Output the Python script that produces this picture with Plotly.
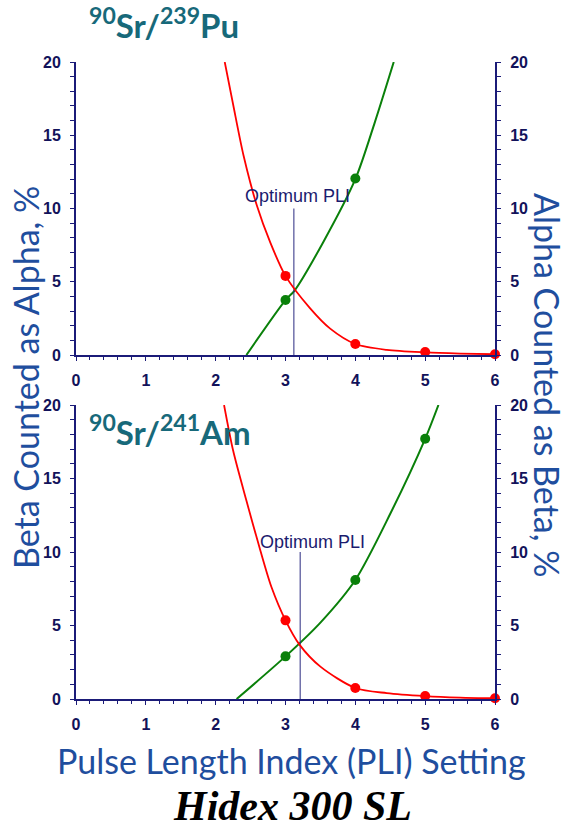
import plotly.graph_objects as go

# ---------------- data ----------------
pli_ticks = [0, 1, 2, 3, 4, 5, 6]

# Top panel: 90Sr/239Pu
pu_red_pts_x = [3, 4, 5, 6]
pu_red_pts_y = [5.4, 0.75, 0.2, 0.05]
pu_green_pts_x = [3, 4]
pu_green_pts_y = [3.75, 12.05]
pu_red_curve_x = [2.13, 2.25, 2.4, 2.59, 2.78, 3.0, 3.35, 3.64, 4.0, 4.45, 5.0, 5.5, 6.0]
pu_red_curve_y = [20, 17.1, 13.6, 10.2, 7.7, 5.4, 3.2, 1.8, 0.75, 0.35, 0.18, 0.1, 0.05]
pu_green_curve_x = [2.44, 3.0, 3.13, 3.54, 4.0, 4.28, 4.55]
pu_green_curve_y = [0, 3.75, 4.4, 7.7, 12.0, 15.9, 20]
pu_optimum = 3.12

# Bottom panel: 90Sr/241Am
am_red_pts_x = [3, 4, 5, 6]
am_red_pts_y = [5.35, 0.75, 0.2, 0.05]
am_green_pts_x = [3, 4, 5]
am_green_pts_y = [2.9, 8.1, 17.7]
am_red_curve_x = [2.12, 2.25, 2.44, 2.64, 2.8, 3.0, 3.2, 3.5, 4.0, 4.45, 5.0, 5.5, 6.0]
am_red_curve_y = [20, 16.9, 13.5, 10.1, 7.6, 5.35, 3.7, 2.2, 0.75, 0.4, 0.2, 0.1, 0.05]
am_green_curve_x = [2.3, 3.0, 3.5, 4.0, 4.5, 5.0, 5.19]
am_green_curve_y = [0, 2.9, 5.2, 8.1, 12.6, 17.7, 20]
am_optimum = 3.21

optimum_line_y = [0, 10]

# ---------------- styles ----------------
NAVY = "#1b1b78"
TICKTXT = "#12125a"
RED = "#ff0000"
GREEN = "#0a800a"
TEAL = "#17697a"
BLUE = "#1f4e9e"

W, H = 570.0, 829.0
L, R = 76.0, 75.0
PW = W - L - R


def px(xpix):
    return (xpix - L) / PW


def py(ypix):
    return (H - ypix) / H


fig = go.Figure()


def add_panel(xa, ya_left, ya_right, rcx, rcy, gcx, gcy, rpx, rpy, gpx, gpy, opt):
    fig.add_trace(go.Scatter(x=rcx, y=rcy, mode="lines", line=dict(color=RED, width=1.8, shape="spline", smoothing=0.8),
                             xaxis=xa, yaxis=ya_right, showlegend=False, hoverinfo="skip"))
    fig.add_trace(go.Scatter(x=gcx, y=gcy, mode="lines", line=dict(color=GREEN, width=2, shape="spline", smoothing=0.8),
                             xaxis=xa, yaxis=ya_left, showlegend=False, hoverinfo="skip"))
    fig.add_trace(go.Scatter(x=[opt, opt], y=optimum_line_y, mode="lines", line=dict(color="#2a2a80", width=1),
                             xaxis=xa, yaxis=ya_left, showlegend=False, hoverinfo="skip"))
    fig.add_trace(go.Scatter(x=rpx, y=rpy, mode="markers", marker=dict(color=RED, size=10), cliponaxis=False,
                             xaxis=xa, yaxis=ya_right, showlegend=False))
    fig.add_trace(go.Scatter(x=gpx, y=gpy, mode="markers", marker=dict(color=GREEN, size=10), cliponaxis=False,
                             xaxis=xa, yaxis=ya_left, showlegend=False))


add_panel("x", "y", "y2", pu_red_curve_x, pu_red_curve_y, pu_green_curve_x, pu_green_curve_y,
          pu_red_pts_x, pu_red_pts_y, pu_green_pts_x, pu_green_pts_y, pu_optimum)
add_panel("x2", "y3", "y4", am_red_curve_x, am_red_curve_y, am_green_curve_x, am_green_curve_y,
          am_red_pts_x, am_red_pts_y, am_green_pts_x, am_green_pts_y, am_optimum)

tickfont = dict(family="Liberation Sans, Arial", size=16, color=TICKTXT, weight="bold")


def xax(anchor):
    return dict(domain=[0, 1], anchor=anchor, range=[0, 6], tickvals=pli_ticks, showline=True,
                linecolor=NAVY, linewidth=2, ticks="outside", ticklen=4, tickwidth=1, tickcolor=NAVY,
                tickfont=tickfont, showgrid=False, zeroline=False, ticklabelstandoff=6, automargin=False,
                minor=dict(dtick=0.2, ticks="outside", ticklen=3, tickwidth=1, tickcolor=NAVY))


def yax(anchor, domain, side, overlaying=None):
    d = dict(anchor=anchor, range=[0, 20], dtick=5, showline=True, side=side,
             linecolor=NAVY, linewidth=2, ticks="outside", ticklen=4, tickwidth=1, tickcolor=NAVY,
             tickfont=tickfont, showgrid=False, zeroline=False, ticklabelstandoff=6, automargin=False,
             minor=dict(dtick=1, ticks="outside", ticklen=4, tickwidth=1, tickcolor=NAVY))
    if overlaying:
        d["overlaying"] = overlaying
    else:
        d["domain"] = domain
    return d


top_dom = [py(355), py(62)]
bot_dom = [py(699), py(405)]

fig.update_layout(
    width=570, height=829,
    margin=dict(l=L, r=R, t=0, b=0, autoexpand=False),
    paper_bgcolor="white", plot_bgcolor="rgba(0,0,0,0)",
    xaxis=xax("y"), yaxis=yax("x", top_dom, "left"), yaxis2=yax("x", None, "right", "y"),
    xaxis2=xax("y3"), yaxis3=yax("x2", bot_dom, "left"), yaxis4=yax("x2", None, "right", "y3"),
)

opt_font = dict(family="Liberation Sans, Arial", size=18, color="#1b1b6e")


def pa(text, x, y, font, xanchor="center", angle=0):
    return dict(text=text, x=x, y=y, xref="paper", yref="paper", xanchor=xanchor, yanchor="middle",
                textangle=angle, showarrow=False, font=font)


annos = [
    dict(text="Optimum PLI", x=3.165, y=10.85, xref="x", yref="y", showarrow=False, font=opt_font,
         xanchor="center", yanchor="middle"),
    dict(text="Optimum PLI", x=3.39, y=10.7, xref="x2", yref="y3", showarrow=False, font=opt_font,
         xanchor="center", yanchor="middle"),
    pa("<sup>90</sup>Sr/<sup>239</sup>Pu", px(87), py(23),
       dict(family="Lato", size=33, color=TEAL, weight="bold"), xanchor="left"),
    pa("<sup>90</sup>Sr/<sup>241</sup>Am", px(87), py(430),
       dict(family="Lato", size=33, color=TEAL, weight="bold"), xanchor="left"),
    pa("Beta Counted as Alpha, %", px(25), py(378), dict(family="Lato", size=34, color=BLUE), angle=-90),
    pa("Alpha Counted as Beta, %", px(548), py(385), dict(family="Lato", size=34, color=BLUE), angle=90),
    pa("Pulse Length Index (PLI) Setting", px(291), py(760), dict(family="Lato", size=34, color=BLUE)),
    pa("Hidex 300 SL", px(292), py(806),
       dict(family="Liberation Serif", size=42, color="black", weight="bold", style="italic")),
]
fig.update_layout(annotations=annos)

fig.write_html("out.html")
